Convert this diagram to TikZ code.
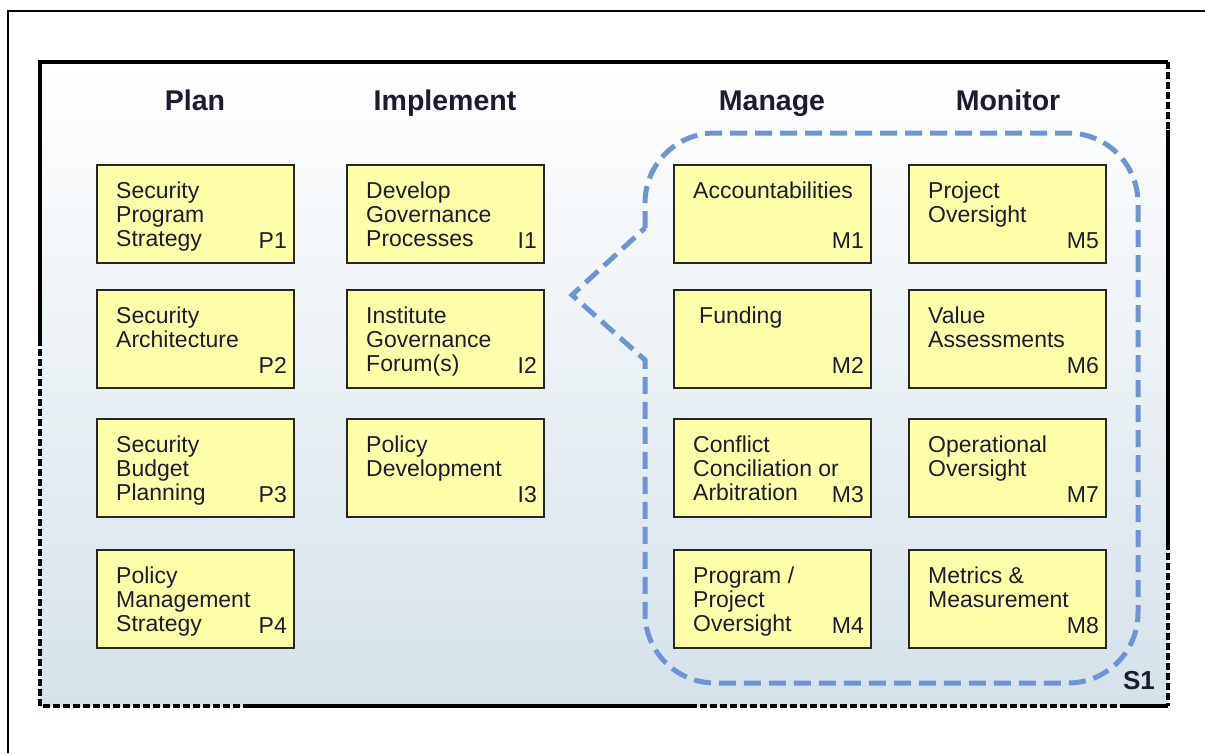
\documentclass[tikz,border=0pt]{standalone}
\usepackage{fontspec}
\setmainfont{Liberation Sans}
\usepackage{tikz}
\definecolor{tileyellow}{RGB}{255,255,170}
\definecolor{calloutblue}{RGB}{110,148,214}
\definecolor{inkdark}{RGB}{28,28,48}
\definecolor{panelbottom}{RGB}{213,226,234}
\newcommand{\tilefont}{\fontsize{23}{24}\selectfont}

\begin{document}
\begin{tikzpicture}[x = 1pt, y = -1pt,
    tile/.style = {draw = black!85, line width = 2pt, fill = tileyellow, minimum width = 197pt, minimum height = 98pt, anchor = north west, inner sep = 0pt},
    tiletext/.style = {anchor = north west, align = left, inner sep = 0pt, font = \tilefont, text = inkdark},
    tilelabel/.style = {anchor = base east, inner sep = 0pt, font = \tilefont, text = inkdark},
    header/.style = {anchor = base, inner sep = 0pt, font = \fontsize{28.5}{30}\selectfont\bfseries, text = inkdark},
    edgesolid/.style = {line width = 3.5pt},
    edgedash/.style = {line width = 3.5pt, dash pattern = on 7pt off 3pt},
    callout/.style = {draw = calloutblue, line width = 5pt, dash pattern = on 17pt off 8pt}]

        \useasboundingbox (0, 0) rectangle (1205, 753);

        \draw [line width = 2pt] (8, 753) -- (8, 11) -- (1205, 11);

        \fill [top color = white, bottom color = panelbottom] (40, 62) rectangle (1168, 706);
        \draw [edgesolid] (40, 340) -- (40, 62) -- (1168, 62);
        \draw [edgedash] (1168, 62) -- (1168, 130);
        \draw [edgesolid] (1168, 130) -- (1168, 543);
        \draw [edgedash] (1168, 543) -- (1168, 706);
        \draw [edgesolid] (1168, 706) -- (1127, 706);
        \draw [edgedash] (1127, 706) -- (697, 706);
        \draw [edgesolid] (697, 706) -- (250, 706);
        \draw [edgedash] (250, 706) -- (40, 706) -- (40, 340);

        \node [header] (plan) at (195, 110) {Plan};
        \node [header] (implement) at (445, 110) {Implement};
        \node [header] (manage) at (772, 110) {Manage};
        \node [header] (monitor) at (1008, 110) {Monitor};

        \draw [callout] (645, 228) -- (645, 203) arc [start angle = 180, end angle = 270, radius = 70]
          -- (1068, 133) arc [start angle = 270, end angle = 360, radius = 70]
          -- (1138, 613) arc [start angle = 0, end angle = 90, radius = 70]
          -- (715, 683) arc [start angle = 90, end angle = 180, radius = 70]
          -- (645, 360) -- (572, 295) -- cycle;

        \foreach \tname/\tx/\ty/\ttext/\tlab in {
            p1/96/164/{Security\\Program\\Strategy}/P1,
            p2/96/289/{Security\\Architecture}/P2,
            p3/96/418/{Security\\Budget\\Planning}/P3,
            p4/96/549/{Policy\\Management\\Strategy}/P4,
            i1/346/164/{Develop\\Governance\\Processes}/I1,
            i2/346/289/{Institute\\Governance\\Forum(s)}/I2,
            i3/346/418/{Policy\\Development}/I3,
            m1/673/164/{Accountabilities}/M1,
            m2/673/289/{\hspace*{6pt}Funding}/M2,
            m3/673/418/{Conflict\\Conciliation or\\Arbitration}/M3,
            m4/673/549/{Program /\\Project\\Oversight}/M4,
            m5/908/164/{Project\\Oversight}/M5,
            m6/908/289/{Value\\Assessments}/M6,
            m7/908/418/{Operational\\Oversight}/M7,
            m8/908/549/{Metrics \&\\Measurement}/M8}
        {
          \node [tile] (\tname) at (\tx, \ty) {};
          \node [tiletext] (\tname-text) at ([shift = {(20, 17.5)}] \tname.north west) {\ttext};
          \node [tilelabel] (\tname-label) at ([shift = {(-8, -16)}] \tname.south east) {\tlab};
        }

        \node [header, anchor = base east, font = \fontsize{26}{28}\selectfont\bfseries] (s1) at (1155, 689) {S1};

      \end{tikzpicture}
\end{document}
